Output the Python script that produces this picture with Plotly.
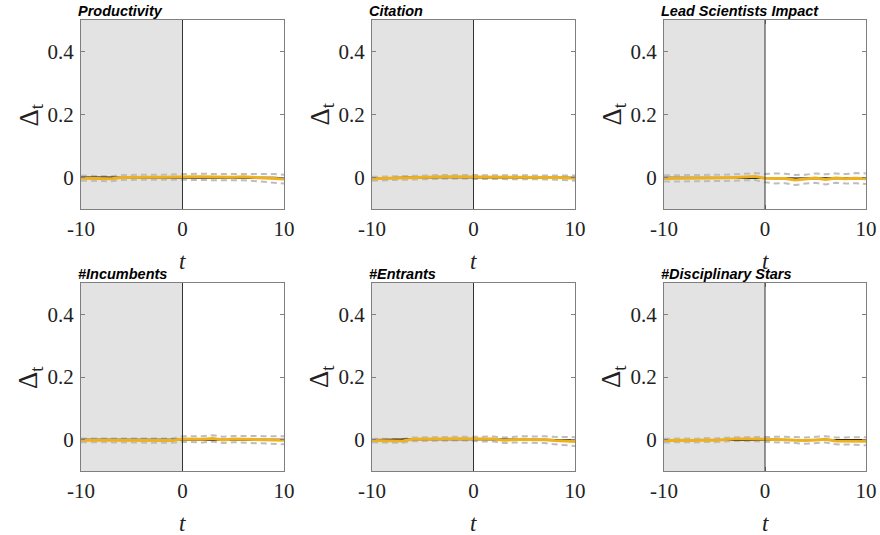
import plotly.graph_objects as go

t = list(range(-10, 11))
titles = ["Productivity", "Citation", "Lead Scientists Impact",
          "#Incumbents", "#Entrants", "#Disciplinary Stars"]

# black (observed mean) lines
mean_vals = [
    [0.000, 0.000, 0.000, -0.001, 0.001, 0.001, 0.001, 0.001, 0.001, 0.001, 0.001, 0.001, 0.001, 0.001, 0.001, 0.001, 0.001, 0.000, 0.000, -0.001, -0.002],
    [-0.003, -0.003, -0.002, -0.001, 0.000, 0.001, 0.001, 0.001, 0.001, 0.001, 0.001, 0.001, 0.001, 0.001, 0.001, 0.001, 0.001, 0.001, 0.000, 0.000, -0.001],
    [-0.001, -0.001, -0.001, -0.001, -0.001, -0.001, -0.001, 0.000, 0.000, 0.000, 0.000, -0.002, -0.002, -0.003, -0.002, -0.002, -0.002, -0.002, -0.002, -0.002, -0.002],
    [0.000, 0.000, 0.000, 0.000, 0.000, 0.000, 0.000, 0.000, 0.000, 0.000, 0.000, 0.000, 0.000, 0.000, 0.000, 0.000, 0.000, 0.000, 0.000, 0.000, 0.000],
    [-0.001, -0.001, -0.001, 0.000, 0.001, 0.001, 0.002, 0.002, 0.002, 0.002, 0.002, 0.002, 0.002, 0.001, 0.001, 0.001, 0.000, 0.000, -0.001, -0.002, -0.002],
    [-0.001, -0.001, -0.001, 0.000, 0.000, 0.001, 0.001, 0.001, 0.001, 0.001, 0.001, 0.001, 0.001, 0.000, 0.000, 0.000, 0.000, 0.000, -0.001, -0.001, -0.001],
]
# orange (model) lines
model_vals = [
    [-0.002, -0.002, -0.002, -0.004, 0.000, 0.001, 0.001, 0.001, 0.001, 0.002, 0.002, 0.002, 0.002, 0.001, 0.001, 0.001, 0.002, 0.000, -0.001, -0.002, -0.005],
    [-0.004, -0.003, -0.002, -0.001, 0.001, 0.002, 0.002, 0.002, 0.002, 0.002, 0.002, 0.001, 0.001, 0.001, 0.001, 0.001, 0.001, 0.001, 0.000, -0.001, -0.002],
    [-0.003, -0.003, -0.003, -0.003, -0.003, -0.002, -0.001, 0.000, 0.001, 0.003, -0.002, -0.003, -0.003, -0.008, -0.005, -0.002, -0.006, -0.002, -0.004, -0.002, -0.004],
    [-0.002, -0.002, -0.002, -0.002, -0.002, -0.002, -0.002, -0.002, -0.002, -0.003, 0.002, 0.001, 0.001, 0.004, -0.001, 0.002, 0.002, 0.001, 0.000, -0.001, -0.002],
    [-0.003, -0.003, -0.003, -0.004, 0.001, 0.002, 0.003, 0.003, 0.003, 0.003, 0.002, 0.002, 0.002, -0.002, 0.000, 0.001, 0.000, 0.000, -0.003, -0.004, -0.006],
    [-0.003, -0.002, -0.002, -0.003, -0.001, -0.002, 0.001, 0.002, 0.002, 0.002, 0.002, 0.001, 0.000, -0.002, -0.003, -0.001, 0.001, -0.004, -0.004, -0.004, -0.005],
]
# dashed confidence bounds (half widths)
band_vals = [
    [0.008, 0.008, 0.008, 0.008, 0.008, 0.008, 0.008, 0.008, 0.008, 0.008, 0.009, 0.010, 0.010, 0.010, 0.010, 0.010, 0.011, 0.011, 0.012, 0.013, 0.014],
    [0.006, 0.006, 0.006, 0.006, 0.006, 0.006, 0.006, 0.006, 0.006, 0.006, 0.006, 0.006, 0.006, 0.006, 0.006, 0.006, 0.007, 0.007, 0.007, 0.007, 0.008],
    [0.010, 0.010, 0.010, 0.010, 0.010, 0.010, 0.010, 0.010, 0.010, 0.011, 0.013, 0.016, 0.015, 0.016, 0.014, 0.015, 0.016, 0.015, 0.015, 0.016, 0.017],
    [0.006, 0.006, 0.006, 0.006, 0.006, 0.006, 0.006, 0.006, 0.006, 0.007, 0.009, 0.010, 0.010, 0.010, 0.010, 0.010, 0.011, 0.011, 0.011, 0.012, 0.013],
    [0.006, 0.006, 0.006, 0.006, 0.006, 0.006, 0.006, 0.006, 0.006, 0.006, 0.007, 0.008, 0.008, 0.009, 0.009, 0.010, 0.010, 0.011, 0.012, 0.013, 0.014],
    [0.006, 0.006, 0.006, 0.006, 0.006, 0.006, 0.006, 0.006, 0.006, 0.007, 0.008, 0.008, 0.009, 0.009, 0.010, 0.010, 0.010, 0.011, 0.011, 0.012, 0.013],
]
y_ticks = [0, 0.2, 0.4]
y_tick_text = ["0", "0.2", "0.4"]
x_ticks = [-10, 0, 10]
x_tick_text = ["-10", "0", "10"]

W, H = 880, 535
xdoms = [(81, 284), (372, 575), (664, 866)]
ydoms = [(20, 209), (283, 471)]

fig = go.Figure()
serif = "Liberation Serif"
annotations = []
shapes = []
for i in range(6):
    r, c = divmod(i, 3)
    ax = "" if i == 0 else str(i + 1)
    xa, ya = "x" + ax, "y" + ax
    x0p, x1p = xdoms[c]
    y0p, y1p = ydoms[r]
    m = mean_vals[i]
    mo = model_vals[i]
    b = band_vals[i]
    upper = [mo[k] + b[k] for k in range(len(t))]
    lower = [mo[k] - b[k] for k in range(len(t))]
    for yy in (upper, lower):
        fig.add_trace(go.Scatter(x=t, y=yy, mode="lines", xaxis=xa, yaxis=ya,
                                 line=dict(color="#bdbdbd", width=2, dash="6px,4px"),
                                 showlegend=False, hoverinfo="skip"))
    fig.add_trace(go.Scatter(x=t, y=m, mode="lines", xaxis=xa, yaxis=ya,
                             line=dict(color="black", width=2), showlegend=False))
    fig.add_trace(go.Scatter(x=t, y=mo, mode="lines", xaxis=xa, yaxis=ya,
                             line=dict(color="#EDB120", width=3), showlegend=False))
    axis_common = dict(showgrid=False, zeroline=False, showline=True, linecolor="#7f7f7f",
                       linewidth=1, mirror="ticks", ticks="inside", ticklen=4,
                       tickcolor="#7f7f7f", automargin=False,
                       tickfont=dict(family=serif, size=21, color="#222"))
    fig.update_layout(**{
        "xaxis" + ax: dict(domain=[x0p / W, x1p / W], range=[-10, 10], anchor=ya,
                           tickvals=x_ticks, ticktext=x_tick_text, ticklabelstandoff=1,
                           **axis_common),
        "yaxis" + ax: dict(domain=[1 - y1p / H, 1 - y0p / H], range=[-0.1, 0.5], anchor=xa,
                           tickvals=y_ticks, ticktext=y_tick_text, ticklabelstandoff=2,
                           **axis_common),
    })
    shapes.append(dict(type="rect", xref=xa, yref=ya, x0=-10, x1=0, y0=-0.1, y1=0.5,
                       fillcolor="#e3e3e3", line=dict(width=0), layer="below"))
    shapes.append(dict(type="line", xref=xa, yref=ya, x0=0, x1=0, y0=-0.1, y1=0.5,
                       line=dict(color="#333", width=1), layer="above"))
    annotations.append(dict(text="<b><i>" + titles[i] + "</i></b>", xref="paper", yref="paper",
                            x=(x0p - 5) / W, y=1 - (y0p + 1) / H, xanchor="left", yanchor="bottom",
                            showarrow=False, font=dict(family="Liberation Sans", size=14.5, color="black")))
    annotations.append(dict(text="<i>t</i>", xref="paper", yref="paper",
                            x=(x0p + x1p) / 2 / W, y=1 - (y1p + 52) / H, xanchor="center",
                            yanchor="middle", showarrow=False,
                            font=dict(family=serif, size=23, color="#222")))
    annotations.append(dict(text="Δ<sub>t</sub>", xref="paper", yref="paper",
                            x=(x0p - 51) / W, y=1 - ((y0p + y1p) / 2) / H, xanchor="center",
                            yanchor="middle", textangle=-90, showarrow=False,
                            font=dict(family=serif, size=27, color="#222")))

fig.update_layout(width=W, height=H, margin=dict(l=0, r=0, t=0, b=0, pad=0, autoexpand=False),
                  plot_bgcolor="white", paper_bgcolor="white",
                  shapes=shapes, annotations=annotations)
fig.write_html("out.html")
